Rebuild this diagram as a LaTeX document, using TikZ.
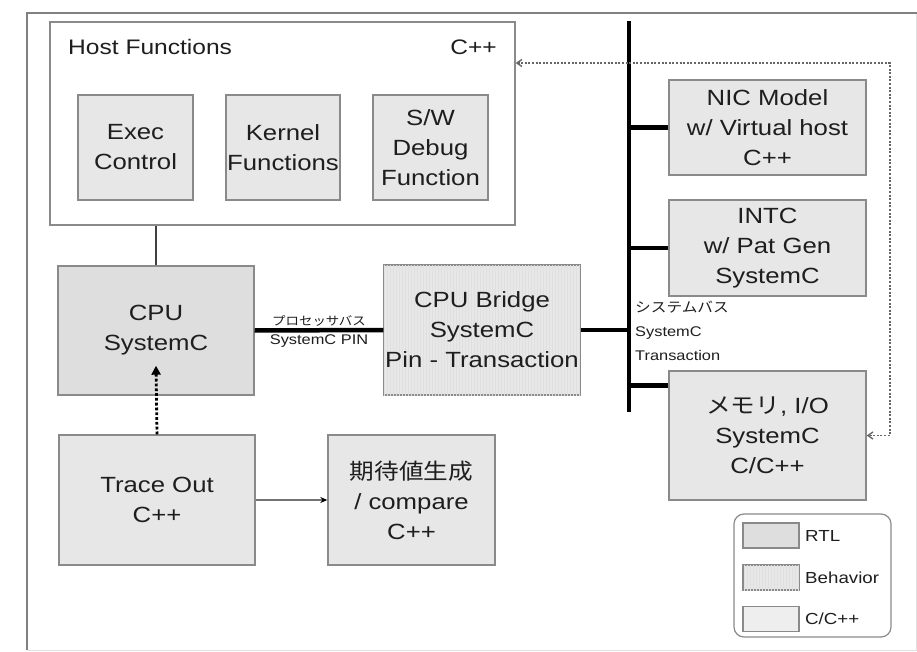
\documentclass[tikz,border=0pt]{standalone}
\usepackage{fontspec}
\setmainfont{Liberation Sans}[FakeStretch=1.17]
\newfontfamily\jpfont{Noto Sans CJK JP}[FakeStretch=1.12]
\usetikzlibrary{arrows.meta,patterns,calc}
\definecolor{boxline}{HTML}{8A8A8A}
\definecolor{rtlfill}{HTML}{DEDEDE}
\definecolor{cfill}{HTML}{E7E7E7}
\definecolor{inkgray}{HTML}{1E1E1E}
\tikzset{
  blk/.style={draw=boxline, line width=1.4pt, fill=cfill, align=center,
    inner sep=0pt, text=inkgray, font=\fontsize{22}{30}\selectfont},
  rtlblk/.style={blk, fill=rtlfill},
  behblk/.style={blk, fill=cfill, postaction={pattern=vertical lines, pattern color=black!12}},
  busline/.style={line width=4.5pt, black},
  smalllbl/.style={text=inkgray, inner sep=1pt},
  legendtxt/.style={font=\fontsize{16}{18}\selectfont, text=inkgray, anchor=west, inner sep=0pt},
  swatch/.style={draw=boxline, line width=1.2pt, minimum width=56pt, minimum height=25pt, inner sep=0pt}
}
\begin{document}
\begin{tikzpicture}[x=1pt,y=-1pt]
\useasboundingbox (0,0) rectangle (917,652);
\fill[white] (0,0) rectangle (917,652);

% outer frame
\draw[black!12, line width=1pt] (916,13) -- (916,650) -- (27,650);
\draw[black!50, line width=2pt] (27,650) -- (27,13) -- (917,13);

% host side
\node[blk, fill=white, minimum width=465pt, minimum height=203pt] (host) at (282.5,123.5) {};
\node[anchor=west, text=inkgray, font=\fontsize{21}{24}\selectfont, inner sep=0pt] (hostlbl) at (68,47) {Host Functions};
\node[anchor=east, text=inkgray, font=\fontsize{21}{24}\selectfont, inner sep=0pt] (hostlang) at (497,47) {C++};
\node[blk, minimum width=115pt, minimum height=105pt] (exec) at (135.5,147.5) {Exec\\Control};
\node[blk, minimum width=114pt, minimum height=105pt] (kern) at (283,147.5) {Kernel\\Functions};
\node[blk, minimum width=115pt, minimum height=105pt] (swdbg) at (430.5,147.5) {S/W\\Debug\\Function};

% processor and bridge
\node[rtlblk, minimum width=196pt, minimum height=129pt] (cpu) at (156,330.5) {CPU\\SystemC};
\node[behblk, minimum width=196pt, minimum height=130pt] (bridge) at (482,330) {CPU Bridge\\SystemC\\Pin - Transaction};

% peripherals
\node[blk, minimum width=197pt, minimum height=95pt] (nic) at (767.5,127.5) {NIC Model\\w/ Virtual host\\C++};
\node[blk, minimum width=197pt, minimum height=96pt] (intc) at (767.5,248) {INTC\\w/ Pat Gen\\SystemC};
\node[blk, minimum width=197pt, minimum height=129pt] (mem) at (767.5,435.5) {{\jpfont メモリ}, I/O\\SystemC\\C/C++};

% trace and checker
\node[blk, minimum width=196pt, minimum height=130pt] (trace) at (157,500) {Trace Out\\C++};
\node[blk, minimum width=167pt, minimum height=130pt] (comp) at (411.5,500) {{\jpfont 期待値生成}\\/ compare\\C++};

% system bus
\coordinate (bustop) at (629,21);
\coordinate (busbot) at (629,412);
\draw[line width=4.5pt] (bustop) -- (busbot);
\draw[busline] (nic.west) -- (nic.west -| bustop);
\draw[busline] (intc.west) -- (intc.west -| bustop);
\draw[busline] (bridge.east) -- (bridge.east -| bustop);
\coordinate (memc) at ([yshift=-15pt]mem.north west);
\draw[busline] (memc) -- (memc -| bustop);
\node[smalllbl, anchor=north west, align=left, font=\fontsize{14}{24}\selectfont] (sbuslbl) at (634,300) {{\jpfont システムバス}\\SystemC\\Transaction};

% processor bus
\draw[busline] (cpu.east) -- node[smalllbl, above=1pt, font=\fontsize{12}{14}\selectfont] (pbus) {\jpfont プロセッサバス} node[smalllbl, below=1pt, font=\fontsize{14}{16}\selectfont] (pbus2) {SystemC PIN} (bridge.west);

% host to cpu
\draw[line width=2.8pt, black!75] (host.south -| cpu.north) -- (cpu.north);

% trace feeds cpu
\coordinate (cputip) at ([yshift=30pt]cpu.south);
\draw[line width=2.8pt, black, dotted, -{Triangle[length=9pt,width=9pt]}] (trace.north) -- (cputip);

% trace to checker
\draw[line width=2.2pt, black!55, -{Stealth[length=7pt,width=6pt,black]}] (trace.east) -- (comp.west);

% memory back to host loop
\coordinate (loopr) at (890,63);
\draw[black!60, line width=1.4pt, dash pattern=on 2pt off 1.6pt, {Straight Barb[length=5pt,width=7pt]}-{Straight Barb[length=5pt,width=7pt]}]
  (host.east |- loopr) -- (loopr) -- (loopr |- mem.east) -- (mem.east);

% legend
\draw[boxline, line width=1.2pt, rounded corners=10pt] (734,514) rectangle (891,637);
\node[swatch, fill=rtlfill] (lrtl) at (771,535.5) {};
\node[swatch, fill=cfill, postaction={pattern=vertical lines, pattern color=black!12}] (lbeh) at (771,577.5) {};
\node[swatch, fill=cfill!70!white] (lcpp) at (771,619) {};
\node[legendtxt] (trtl) at (805,535.5) {RTL};
\node[legendtxt] (tbeh) at (805,577.5) {Behavior};
\node[legendtxt] (tcpp) at (805,619) {C/C++};
\end{tikzpicture}
\end{document}
